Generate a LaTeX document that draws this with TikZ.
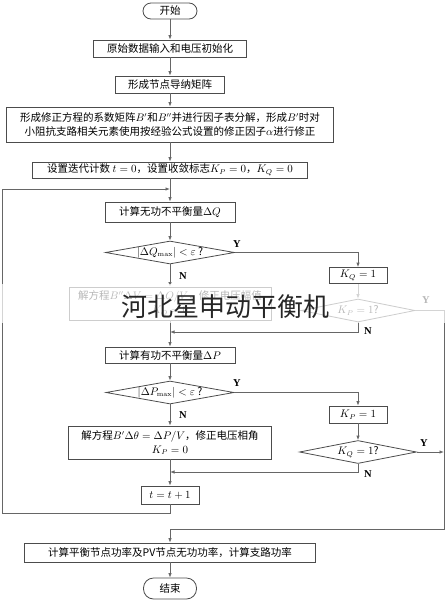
\documentclass[tikz,border=0pt]{standalone}
\usepackage[no-math]{fontspec}
\setmainfont{Noto Sans CJK SC}
\newfontfamily\lat{Liberation Serif}
\usetikzlibrary{arrows.meta,shapes.geometric}
\begin{document}
\begin{tikzpicture}[x=1pt,y=-1pt,
  box/.style={draw=black!70, line width=0.8pt, inner sep=0pt, align=center,
    font=\fontsize{10.5}{14}\selectfont},
  term/.style={box, rounded corners=8pt},
  dec/.style={draw=black!70, line width=0.8pt, diamond, aspect=5.6, inner sep=0pt,
    font=\fontsize{10.5}{13}\selectfont},
  line/.style={draw=black!60, line width=0.8pt},
  arr/.style={line, -{Latex[length=4.5pt,width=3.5pt]}},
  lbl/.style={font=\lat\bfseries\fontsize{10.5}{12}\selectfont, inner sep=0pt}
]
\useasboundingbox (0,0) rectangle (446,600);

% nodes
\node[term, minimum width=54pt, minimum height=16pt] (start) at (170,11) {开始};
\node[box, minimum width=153pt, minimum height=17pt] (b2) at (170,48.5) {原始数据输入和电压初始化};
\node[box, minimum width=109pt, minimum height=17pt] (b3) at (170,84.5) {形成节点导纳矩阵};
\node[box, minimum width=327pt, minimum height=35pt] (b4) at (170,124.5)
  {形成修正方程的系数矩阵$B'$和$B''$并进行因子表分解，形成$B'$时对\\小阻抗支路相关元素使用按经验公式设置的修正因子$\alpha$进行修正};
\node[box, minimum width=275pt, minimum height=16pt] (b5) at (170,170)
  {设置迭代计数 $t=0$，设置收敛标志$K_P=0$，$K_Q=0$};
\node[box, minimum width=130pt, minimum height=20pt] (b6) at (170,212) {计算无功不平衡量$\Delta Q$};
\node[dec, minimum width=129pt, minimum height=23pt] (d1) at (170,252.5) {$|\Delta Q_{\max}|<\varepsilon$ ?};
\node[box, minimum width=58pt, minimum height=16pt] (kq1) at (358,275.5) {$K_Q=1$};
\node[box, minimum width=202pt, minimum height=33pt] (bf) at (170,303.5)
  {解方程$B''\Delta V=\Delta Q/V$，修正电压幅值\\$K_Q=0$};
\node[dec, minimum width=114pt, minimum height=23pt] (dkp) at (358,310.5) {$K_P=1$?};
\node[box, minimum width=130pt, minimum height=16pt] (b7) at (170,355) {计算有功不平衡量$\Delta P$};
\node[dec, minimum width=128pt, minimum height=23pt] (d2) at (170,392.5) {$|\Delta P_{\max}|<\varepsilon$ ?};
\node[box, minimum width=58pt, minimum height=17pt] (kp1) at (358,414.5) {$K_P=1$};
\node[box, minimum width=203pt, minimum height=33pt] (b8) at (170,442.5)
  {解方程$B'\Delta\theta=\Delta P/V$，修正电压相角\\$K_P=0$};
\node[dec, minimum width=117pt, minimum height=23pt] (dkq) at (358,452) {$K_Q=1$?};
\node[box, minimum width=58pt, minimum height=18pt] (b9) at (170,495) {$t=t+1$};
\node[box, minimum width=291pt, minimum height=19pt] (b10) at (170,552.5)
  {计算平衡节点功率及PV节点无功功率，计算支路功率};
\node[term, minimum width=53pt, minimum height=21pt, rounded corners=10pt] (end) at (170,588.5) {结束};

% coordinates for bends
\coordinate (loopin) at (170,189);
\coordinate (jq) at (170,332);
\coordinate (jp) at (170,472);
\coordinate (r1) at (444,310.5);
\coordinate (r2) at (444,452);
\coordinate (r3) at (444,529);
\coordinate (r4) at (170,529);
\coordinate (l1) at (170,513);
\coordinate (l2) at (2,513);
\coordinate (l3) at (2,189);

% trunk
\draw[arr] (start) -- (b2);
\draw[arr] (b2) -- (b3);
\draw[arr] (b3) -- (b4);
\draw[arr] (b4) -- (b5);
\draw[arr] (b5) -- (b6);
\draw[arr] (b6) -- (d1);
\draw[arr] (d1) -- (bf);
\draw[arr] (bf) -- (b7);
\draw[arr] (b7) -- (d2);
\draw[arr] (d2) -- (b8);
\draw[arr] (b8) -- (b9);
\draw[arr] (b10) -- (end);

% right branches
\draw[arr] (d1.east) -| (kq1.north);
\draw[arr] (kq1) -- (dkp);
\draw[arr] (dkp.south) |- (jq);
\draw[arr] (d2.east) -| (kp1.north);
\draw[arr] (kp1) -- (dkq);
\draw[arr] (dkq.south) |- (jp);
\draw[arr] (dkq.east) -- (r2);
\draw[arr] (dkp.east) -- (r1) -- (r3) -- (r4) -- (b10.north);

% loop
\draw[arr] (b9.south) -- (l1) -- (l2) -- (l3) -- (loopin);

% labels
\node[lbl] at (237,244) {Y};
\node[lbl] at (183,276) {N};
\node[lbl] at (426,300) {Y};
\node[lbl] at (368,331) {N};
\node[lbl] at (237,383) {Y};
\node[lbl] at (183,415) {N};
\node[lbl] at (424,443) {Y};
\node[lbl] at (368,474) {N};

% faded overlay and watermark
\fill[white, opacity=0.72] (0,284) rectangle (446,323);
\node[font=\fontsize{26}{28}\selectfont, text=black!85, inner sep=0pt] (wm) at (225,306.5) {河北星申动平衡机};
\end{tikzpicture}
\end{document}
